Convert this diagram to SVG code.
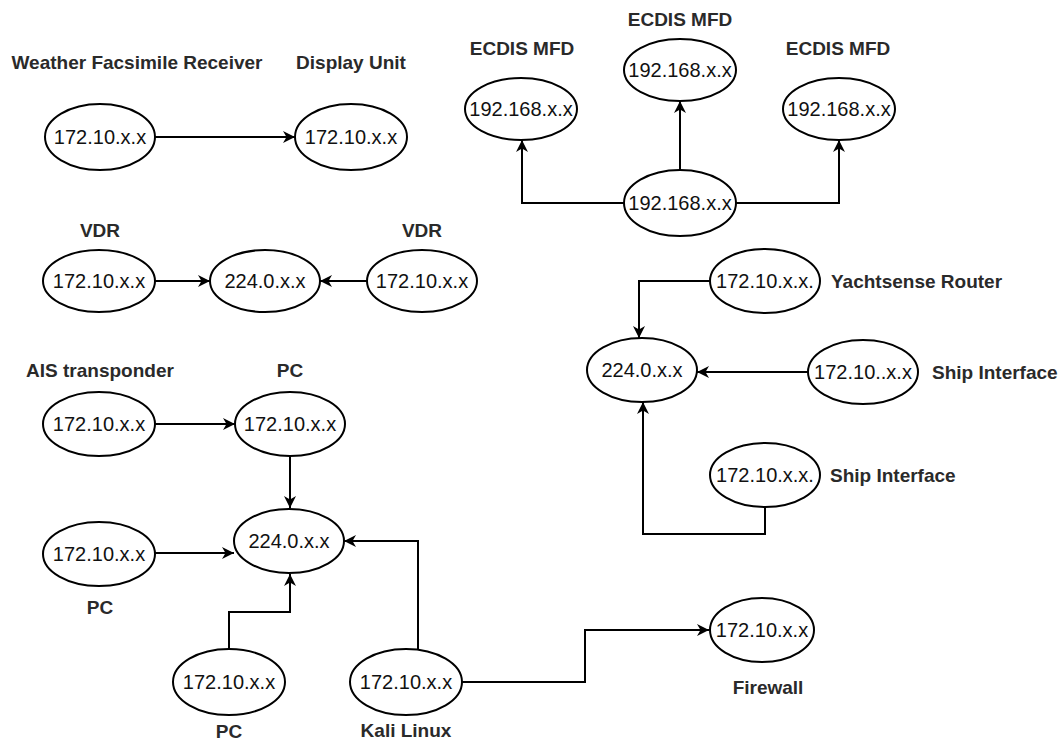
<svg xmlns="http://www.w3.org/2000/svg" width="1064" height="743" viewBox="0 0 1064 743">
<style>
.n ellipse{fill:#fff;stroke:#000;stroke-width:2}
.n text{font-family:"Liberation Sans",Arial,sans-serif;font-size:20px;fill:#111;text-anchor:middle;dominant-baseline:central}
.lbl{font-family:"Liberation Sans",Arial,sans-serif;font-size:19px;font-weight:bold;fill:#2a2a2a;dominant-baseline:central}
.c path{fill:none;stroke:#000;stroke-width:2;marker-end:url(#ah)}
</style>
<defs>
<marker id="ah" markerUnits="userSpaceOnUse" markerWidth="14" markerHeight="12" refX="12" refY="6" orient="auto">
<path d="M0,0 L12,6 L0,12 L3.5,6 Z" fill="#000"/>
</marker>
</defs>
<rect width="1064" height="743" fill="#fff"/>
<g id="connectors" class="c">
<path d="M155,137 H295"/>
<path d="M155,281 H210"/>
<path d="M367,281 H320"/>
<path d="M624,203 H522 V140"/>
<path d="M735,203 H839 V140"/>
<path d="M680,170 V101"/>
<path d="M710,281 H639 V338"/>
<path d="M808,372 H697"/>
<path d="M765,508 V534 H643 V402"/>
<path d="M155,424 H235"/>
<path d="M290,457 V508"/>
<path d="M155,553 H234"/>
<path d="M229,648 V612 H290 V574"/>
<path d="M418,649 V541 H344"/>
<path d="M462,682 H585 V630 H709"/>
</g>
<g id="weather" class="n"><ellipse cx="100" cy="137" rx="55" ry="33"/><text x="100" y="137">172.10.x.x</text></g>
<g id="display" class="n"><ellipse cx="351" cy="137" rx="56" ry="33"/><text x="351" y="137">172.10.x.x</text></g>
<g id="vdr1" class="n"><ellipse cx="99" cy="281" rx="56" ry="31"/><text x="99" y="281">172.10.x.x</text></g>
<g id="mc1" class="n"><ellipse cx="265" cy="281" rx="55" ry="31"/><text x="265" y="281">224.0.x.x</text></g>
<g id="vdr2" class="n"><ellipse cx="422" cy="281" rx="55" ry="31"/><text x="422" y="281">172.10.x.x</text></g>
<g id="ecdis1" class="n"><ellipse cx="521" cy="109" rx="56" ry="31"/><text x="521" y="109">192.168.x.x</text></g>
<g id="ecdis2" class="n"><ellipse cx="680" cy="70" rx="56" ry="31"/><text x="680" y="70">192.168.x.x</text></g>
<g id="ecdis3" class="n"><ellipse cx="839" cy="109" rx="56" ry="31"/><text x="839" y="109">192.168.x.x</text></g>
<g id="ecdishub" class="n"><ellipse cx="680" cy="203" rx="56" ry="33"/><text x="680" y="203">192.168.x.x</text></g>
<g id="yacht" class="n"><ellipse cx="765" cy="281" rx="55" ry="32"/><text x="765" y="281">172.10.x.x.</text></g>
<g id="mc2" class="n"><ellipse cx="642" cy="370" rx="55" ry="32"/><text x="642" y="370">224.0.x.x</text></g>
<g id="ship1" class="n"><ellipse cx="863" cy="372" rx="55" ry="32"/><text x="863" y="372">172.10..x.x</text></g>
<g id="ship2" class="n"><ellipse cx="765" cy="475" rx="55" ry="32"/><text x="765" y="475">172.10.x.x.</text></g>
<g id="ais" class="n"><ellipse cx="99" cy="424" rx="56" ry="32"/><text x="99" y="424">172.10.x.x</text></g>
<g id="pc1" class="n"><ellipse cx="290" cy="424" rx="55" ry="32"/><text x="290" y="424">172.10.x.x</text></g>
<g id="mc3" class="n"><ellipse cx="289" cy="541" rx="55" ry="32"/><text x="289" y="541">224.0.x.x</text></g>
<g id="pc2" class="n"><ellipse cx="99" cy="554" rx="56" ry="32"/><text x="99" y="554">172.10.x.x</text></g>
<g id="pc3" class="n"><ellipse cx="229" cy="682" rx="56" ry="33"/><text x="229" y="682">172.10.x.x</text></g>
<g id="kali" class="n"><ellipse cx="406" cy="682" rx="56" ry="33"/><text x="406" y="682">172.10.x.x</text></g>
<g id="firewall" class="n"><ellipse cx="762" cy="630" rx="52" ry="32"/><text x="762" y="630">172.10.x.x</text></g>
<g id="labels">
<text class="lbl" x="137" y="62" text-anchor="middle">Weather Facsimile Receiver</text>
<text class="lbl" x="351" y="62" text-anchor="middle">Display Unit</text>
<text class="lbl" x="100" y="230" text-anchor="middle">VDR</text>
<text class="lbl" x="422" y="230" text-anchor="middle">VDR</text>
<text class="lbl" x="522" y="48" text-anchor="middle">ECDIS MFD</text>
<text class="lbl" x="680" y="19" text-anchor="middle">ECDIS MFD</text>
<text class="lbl" x="838" y="48" text-anchor="middle">ECDIS MFD</text>
<text class="lbl" x="831" y="281">Yachtsense Router</text>
<text class="lbl" x="932" y="372">Ship Interface</text>
<text class="lbl" x="830" y="475">Ship Interface</text>
<text class="lbl" x="100" y="370" text-anchor="middle">AIS transponder</text>
<text class="lbl" x="290" y="370" text-anchor="middle">PC</text>
<text class="lbl" x="100" y="607" text-anchor="middle">PC</text>
<text class="lbl" x="229" y="731" text-anchor="middle">PC</text>
<text class="lbl" x="406" y="730" text-anchor="middle">Kali Linux</text>
<text class="lbl" x="768" y="687" text-anchor="middle">Firewall</text>
</g>
</svg>
